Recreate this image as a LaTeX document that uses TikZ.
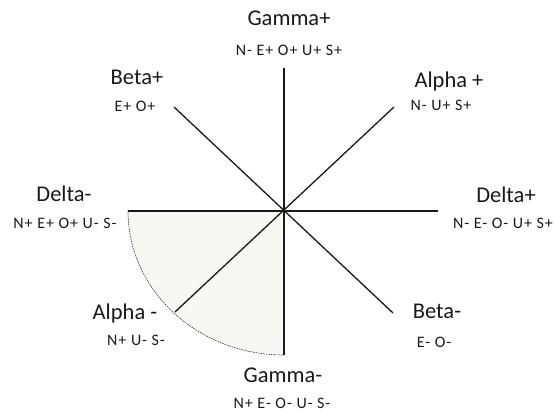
\documentclass[tikz,border=0pt]{standalone}
\usepackage{fontspec}
\setmainfont{Carlito}
\newfontfamily\subfont{Carlito}[LetterSpace=6]
\definecolor{sectorfill}{RGB}{247,247,244}
\begin{document}
\begin{tikzpicture}[x=1pt,y=1pt,
  ttl/.style={font=\fontsize{22.5}{24}\selectfont, text=black!90, inner sep=0pt},
  sub/.style={font=\subfont\fontsize{16}{18}\selectfont, text=black!90, inner sep=0pt},
  axis/.style={line width=2pt, black!90},
  diag/.style={line width=1.3pt, black!90}]
\useasboundingbox (0,0) rectangle (554,414);
\coordinate (C) at (284,203);
\coordinate (T) at (284,346);
\coordinate (B) at (284,59);
\coordinate (L) at (128,203);
\coordinate (R) at (438,203);
\coordinate (TL) at (174,307);
\coordinate (TR) at (394,307);
\coordinate (BR) at (393,101);
\coordinate (BL) at (175,102);
\fill[sectorfill] (C) -- (L) arc[start angle=180, end angle=270, x radius=156, y radius=144] -- cycle;
\draw[black!80, line width=0.6pt, dash pattern=on 1.5pt off 1pt] (L) arc[start angle=180, end angle=270, x radius=156, y radius=144];
\draw[axis] (T) -- (B);
\draw[axis] (L) -- (R);
\draw[diag] (TL) -- (BR);
\draw[diag] (TR) -- (BL);
\node[ttl] (gp) at (289,396) {Gamma+};
\node[sub] (gps) at (289,364) {N- E+ O+ U+ S+};
\node[ttl] (bp) at (137,337) {Beta+};
\node[sub] (bps) at (135,308) {E+ O+};
\node[ttl] (ap) at (449,332) {Alpha +};
\node[sub] (aps) at (441,309) {N- U+ S+};
\node[ttl] (dp) at (506,219) {Delta+};
\node[sub] (dps) at (503,191) {N- E- O- U+ S+};
\node[ttl] (dm) at (64,220) {Delta-};
\node[sub] (dms) at (65,191) {N+ E+ O+ U- S-};
\node[ttl] (am) at (125,100) {Alpha -};
\node[sub] (ams) at (136,74) {N+ U- S-};
\node[ttl] (bm) at (437,103) {Beta-};
\node[sub] (bms) at (434,72) {E- O-};
\node[ttl] (gm) at (283,39) {Gamma-};
\node[sub] (gms) at (282,11) {N+ E- O- U- S-};
\end{tikzpicture}
\end{document}
